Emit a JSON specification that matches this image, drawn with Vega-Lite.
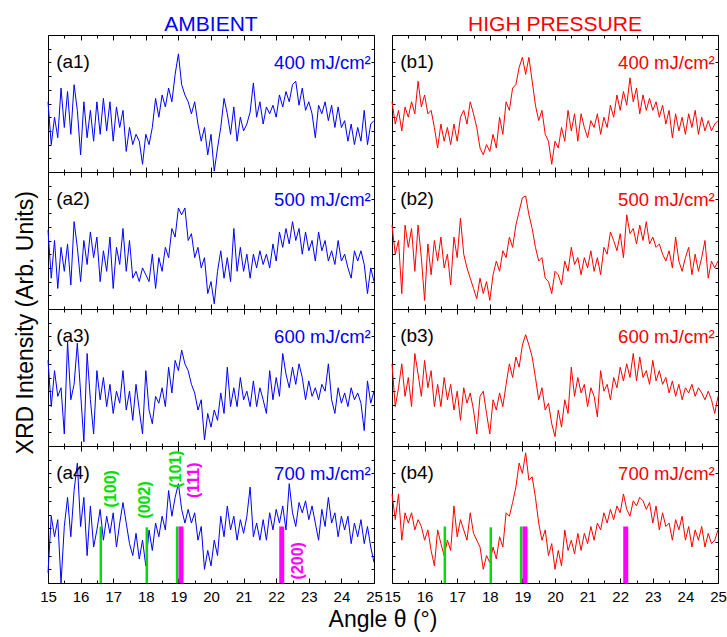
{
"$schema": "https://vega.github.io/schema/vega-lite/v6.json",
"padding": {"left": 15, "top": 14, "right": 2, "bottom": 0},
"config": {"view": {"stroke": "black", "strokeWidth": 1}, "font": "Liberation Sans", "axis": {"domain": false, "grid": false, "tickColor": "black", "tickWidth": 1, "labelFont": "Liberation Sans", "labelFontSize": 15, "labelColor": "black"}},
"datasets": {
"a1": [{"x":15.0,"y":4.1},{"x":15.1,"y":1.6},{"x":15.2,"y":3.2},{"x":15.3,"y":2.0},{"x":15.4,"y":4.9},{"x":15.5,"y":2.6},{"x":15.6,"y":4.7},{"x":15.7,"y":2.2},{"x":15.8,"y":5.1},{"x":15.9,"y":3.6},{"x":16.0,"y":1.0},{"x":16.1,"y":4.1},{"x":16.2,"y":2.0},{"x":16.3,"y":3.6},{"x":16.4,"y":1.8},{"x":16.5,"y":4.1},{"x":16.6,"y":2.2},{"x":16.7,"y":4.3},{"x":16.8,"y":2.4},{"x":16.9,"y":4.1},{"x":17.0,"y":1.8},{"x":17.1,"y":3.8},{"x":17.2,"y":2.6},{"x":17.3,"y":3.6},{"x":17.4,"y":1.2},{"x":17.5,"y":2.6},{"x":17.6,"y":1.6},{"x":17.7,"y":2.2},{"x":17.8,"y":1.8},{"x":17.9,"y":0.45},{"x":18.0,"y":2.2},{"x":18.1,"y":1.6},{"x":18.2,"y":2.6},{"x":18.3,"y":4.3},{"x":18.4,"y":3.2},{"x":18.5,"y":4.5},{"x":18.6,"y":3.8},{"x":18.7,"y":4.9},{"x":18.8,"y":4.1},{"x":18.9,"y":5.7},{"x":19.0,"y":6.9},{"x":19.1,"y":5.1},{"x":19.2,"y":4.5},{"x":19.3,"y":4.1},{"x":19.4,"y":3.4},{"x":19.5,"y":4.1},{"x":19.6,"y":2.8},{"x":19.7,"y":1.8},{"x":19.8,"y":2.6},{"x":19.9,"y":1.0},{"x":20.0,"y":2.2},{"x":20.1,"y":0.05},{"x":20.2,"y":1.4},{"x":20.3,"y":2.6},{"x":20.4,"y":4.3},{"x":20.5,"y":3.4},{"x":20.6,"y":2.2},{"x":20.7,"y":3.8},{"x":20.8,"y":1.8},{"x":20.9,"y":3.2},{"x":21.0,"y":2.4},{"x":21.1,"y":2.8},{"x":21.2,"y":3.5},{"x":21.3,"y":5.2},{"x":21.4,"y":3.2},{"x":21.5,"y":4.1},{"x":21.6,"y":2.8},{"x":21.7,"y":3.8},{"x":21.8,"y":3.4},{"x":21.9,"y":3.9},{"x":22.0,"y":3.2},{"x":22.1,"y":4.5},{"x":22.2,"y":3.8},{"x":22.3,"y":4.7},{"x":22.4,"y":4.1},{"x":22.5,"y":5.1},{"x":22.6,"y":5.3},{"x":22.7,"y":3.9},{"x":22.8,"y":4.9},{"x":22.9,"y":3.6},{"x":23.0,"y":4.1},{"x":23.1,"y":3.4},{"x":23.2,"y":2.0},{"x":23.3,"y":3.9},{"x":23.4,"y":3.4},{"x":23.5,"y":4.1},{"x":23.6,"y":3.0},{"x":23.7,"y":3.9},{"x":23.8,"y":2.6},{"x":23.9,"y":3.8},{"x":24.0,"y":2.6},{"x":24.1,"y":3.0},{"x":24.2,"y":1.8},{"x":24.3,"y":2.8},{"x":24.4,"y":1.6},{"x":24.5,"y":2.6},{"x":24.6,"y":1.8},{"x":24.7,"y":3.6},{"x":24.8,"y":1.6},{"x":24.9,"y":2.8},{"x":25.0,"y":3.0}],
"b1": [{"x":15.0,"y":4.1},{"x":15.1,"y":2.8},{"x":15.2,"y":3.6},{"x":15.3,"y":2.4},{"x":15.4,"y":3.8},{"x":15.5,"y":3.2},{"x":15.6,"y":4.1},{"x":15.7,"y":3.4},{"x":15.8,"y":5.3},{"x":15.9,"y":3.8},{"x":16.0,"y":4.5},{"x":16.1,"y":3.4},{"x":16.2,"y":3.6},{"x":16.3,"y":2.6},{"x":16.4,"y":1.4},{"x":16.5,"y":2.8},{"x":16.6,"y":1.8},{"x":16.7,"y":2.6},{"x":16.8,"y":1.6},{"x":16.9,"y":2.8},{"x":17.0,"y":1.8},{"x":17.1,"y":3.2},{"x":17.2,"y":3.6},{"x":17.3,"y":2.8},{"x":17.4,"y":4.1},{"x":17.5,"y":3.4},{"x":17.6,"y":2.6},{"x":17.7,"y":1.4},{"x":17.8,"y":1.0},{"x":17.9,"y":1.6},{"x":18.0,"y":1.2},{"x":18.1,"y":2.2},{"x":18.2,"y":1.4},{"x":18.3,"y":3.2},{"x":18.4,"y":2.2},{"x":18.5,"y":4.1},{"x":18.6,"y":3.6},{"x":18.7,"y":4.9},{"x":18.8,"y":5.1},{"x":18.9,"y":6.1},{"x":19.0,"y":6.7},{"x":19.1,"y":5.7},{"x":19.2,"y":6.7},{"x":19.3,"y":5.3},{"x":19.4,"y":3.9},{"x":19.5,"y":3.0},{"x":19.6,"y":3.6},{"x":19.7,"y":2.2},{"x":19.8,"y":1.8},{"x":19.9,"y":0.45},{"x":20.0,"y":1.8},{"x":20.1,"y":1.4},{"x":20.2,"y":2.6},{"x":20.3,"y":1.8},{"x":20.4,"y":3.6},{"x":20.5,"y":2.4},{"x":20.6,"y":3.4},{"x":20.7,"y":1.8},{"x":20.8,"y":3.4},{"x":20.9,"y":2.6},{"x":21.0,"y":2.0},{"x":21.1,"y":3.0},{"x":21.2,"y":2.6},{"x":21.3,"y":3.4},{"x":21.4,"y":2.2},{"x":21.5,"y":3.2},{"x":21.6,"y":2.6},{"x":21.7,"y":3.9},{"x":21.8,"y":3.2},{"x":21.9,"y":4.5},{"x":22.0,"y":3.6},{"x":22.1,"y":4.7},{"x":22.2,"y":3.9},{"x":22.3,"y":5.5},{"x":22.4,"y":4.1},{"x":22.5,"y":4.9},{"x":22.6,"y":3.4},{"x":22.7,"y":4.5},{"x":22.8,"y":3.6},{"x":22.9,"y":4.3},{"x":23.0,"y":3.6},{"x":23.1,"y":4.1},{"x":23.2,"y":3.2},{"x":23.3,"y":3.9},{"x":23.4,"y":2.8},{"x":23.5,"y":3.6},{"x":23.6,"y":2.0},{"x":23.7,"y":3.4},{"x":23.8,"y":2.4},{"x":23.9,"y":3.2},{"x":24.0,"y":2.2},{"x":24.1,"y":3.4},{"x":24.2,"y":2.6},{"x":24.3,"y":3.6},{"x":24.4,"y":2.2},{"x":24.5,"y":3.2},{"x":24.6,"y":2.4},{"x":24.7,"y":3.0},{"x":24.8,"y":2.4},{"x":24.9,"y":2.8},{"x":25.0,"y":3.0}],
"a2": [{"x":15.0,"y":4.6},{"x":15.1,"y":1.8},{"x":15.2,"y":4.0},{"x":15.3,"y":1.2},{"x":15.4,"y":3.6},{"x":15.5,"y":2.2},{"x":15.6,"y":3.8},{"x":15.7,"y":1.4},{"x":15.8,"y":5.1},{"x":15.9,"y":3.6},{"x":16.0,"y":1.6},{"x":16.1,"y":4.0},{"x":16.2,"y":2.6},{"x":16.3,"y":4.5},{"x":16.4,"y":3.0},{"x":16.5,"y":4.2},{"x":16.6,"y":1.6},{"x":16.7,"y":3.4},{"x":16.8,"y":2.2},{"x":16.9,"y":4.2},{"x":17.0,"y":1.2},{"x":17.1,"y":3.6},{"x":17.2,"y":2.6},{"x":17.3,"y":4.7},{"x":17.4,"y":2.2},{"x":17.5,"y":4.0},{"x":17.6,"y":1.8},{"x":17.7,"y":2.2},{"x":17.8,"y":1.6},{"x":17.9,"y":2.4},{"x":18.0,"y":2.0},{"x":18.1,"y":1.6},{"x":18.2,"y":3.2},{"x":18.3,"y":1.2},{"x":18.4,"y":3.0},{"x":18.5,"y":2.2},{"x":18.6,"y":3.6},{"x":18.7,"y":3.0},{"x":18.8,"y":4.7},{"x":18.9,"y":4.2},{"x":19.0,"y":5.9},{"x":19.1,"y":5.5},{"x":19.2,"y":5.9},{"x":19.3,"y":4.0},{"x":19.4,"y":4.4},{"x":19.5,"y":3.0},{"x":19.6,"y":3.6},{"x":19.7,"y":2.4},{"x":19.8,"y":3.0},{"x":19.9,"y":0.9},{"x":20.0,"y":1.6},{"x":20.1,"y":0.3},{"x":20.2,"y":2.2},{"x":20.3,"y":3.4},{"x":20.4,"y":1.8},{"x":20.5,"y":3.0},{"x":20.6,"y":1.6},{"x":20.7,"y":4.7},{"x":20.8,"y":2.2},{"x":20.9,"y":3.6},{"x":21.0,"y":2.2},{"x":21.1,"y":3.2},{"x":21.2,"y":1.8},{"x":21.3,"y":3.2},{"x":21.4,"y":2.4},{"x":21.5,"y":3.4},{"x":21.6,"y":2.6},{"x":21.7,"y":3.2},{"x":21.8,"y":2.4},{"x":21.9,"y":3.8},{"x":22.0,"y":2.8},{"x":22.1,"y":4.5},{"x":22.2,"y":3.6},{"x":22.3,"y":4.7},{"x":22.4,"y":3.8},{"x":22.5,"y":5.1},{"x":22.6,"y":4.0},{"x":22.7,"y":4.7},{"x":22.8,"y":3.2},{"x":22.9,"y":4.5},{"x":23.0,"y":3.4},{"x":23.1,"y":4.0},{"x":23.2,"y":2.8},{"x":23.3,"y":4.5},{"x":23.4,"y":3.4},{"x":23.5,"y":4.0},{"x":23.6,"y":2.8},{"x":23.7,"y":3.4},{"x":23.8,"y":2.6},{"x":23.9,"y":4.0},{"x":24.0,"y":2.8},{"x":24.1,"y":3.2},{"x":24.2,"y":2.4},{"x":24.3,"y":1.8},{"x":24.4,"y":3.4},{"x":24.5,"y":2.8},{"x":24.6,"y":3.4},{"x":24.7,"y":2.6},{"x":24.8,"y":0.9},{"x":24.9,"y":2.4},{"x":25.0,"y":1.6}],
"b2": [{"x":15.0,"y":4.9},{"x":15.1,"y":3.2},{"x":15.2,"y":4.0},{"x":15.3,"y":0.9},{"x":15.4,"y":4.9},{"x":15.5,"y":3.6},{"x":15.6,"y":4.7},{"x":15.7,"y":2.2},{"x":15.8,"y":4.9},{"x":15.9,"y":3.0},{"x":16.0,"y":0.5},{"x":16.1,"y":3.8},{"x":16.2,"y":2.0},{"x":16.3,"y":4.0},{"x":16.4,"y":2.8},{"x":16.5,"y":4.2},{"x":16.6,"y":2.4},{"x":16.7,"y":3.2},{"x":16.8,"y":1.4},{"x":16.9,"y":4.2},{"x":17.0,"y":3.0},{"x":17.1,"y":5.3},{"x":17.2,"y":3.2},{"x":17.3,"y":2.4},{"x":17.4,"y":1.8},{"x":17.5,"y":1.2},{"x":17.6,"y":0.6},{"x":17.7,"y":1.8},{"x":17.8,"y":0.9},{"x":17.9,"y":1.6},{"x":18.0,"y":0.5},{"x":18.1,"y":2.0},{"x":18.2,"y":2.8},{"x":18.3,"y":2.2},{"x":18.4,"y":3.4},{"x":18.5,"y":3.0},{"x":18.6,"y":4.2},{"x":18.7,"y":3.6},{"x":18.8,"y":4.9},{"x":18.9,"y":5.7},{"x":19.0,"y":6.5},{"x":19.1,"y":6.6},{"x":19.2,"y":5.5},{"x":19.3,"y":4.7},{"x":19.4,"y":3.6},{"x":19.5,"y":2.8},{"x":19.6,"y":3.0},{"x":19.7,"y":1.8},{"x":19.8,"y":1.6},{"x":19.9,"y":0.9},{"x":20.0,"y":2.2},{"x":20.1,"y":2.0},{"x":20.2,"y":1.4},{"x":20.3,"y":2.8},{"x":20.4,"y":2.2},{"x":20.5,"y":3.6},{"x":20.6,"y":2.6},{"x":20.7,"y":3.0},{"x":20.8,"y":2.0},{"x":20.9,"y":3.0},{"x":21.0,"y":2.4},{"x":21.1,"y":3.4},{"x":21.2,"y":2.2},{"x":21.3,"y":3.0},{"x":21.4,"y":2.0},{"x":21.5,"y":3.6},{"x":21.6,"y":3.2},{"x":21.7,"y":4.5},{"x":21.8,"y":4.0},{"x":21.9,"y":3.4},{"x":22.0,"y":4.4},{"x":22.1,"y":3.0},{"x":22.2,"y":5.5},{"x":22.3,"y":4.4},{"x":22.4,"y":4.7},{"x":22.5,"y":3.8},{"x":22.6,"y":4.9},{"x":22.7,"y":4.0},{"x":22.8,"y":5.1},{"x":22.9,"y":3.8},{"x":23.0,"y":4.2},{"x":23.1,"y":3.6},{"x":23.2,"y":3.8},{"x":23.3,"y":3.2},{"x":23.4,"y":2.8},{"x":23.5,"y":3.4},{"x":23.6,"y":2.4},{"x":23.7,"y":4.2},{"x":23.8,"y":2.8},{"x":23.9,"y":2.2},{"x":24.0,"y":3.0},{"x":24.1,"y":3.6},{"x":24.2,"y":2.0},{"x":24.3,"y":3.2},{"x":24.4,"y":2.2},{"x":24.5,"y":3.0},{"x":24.6,"y":4.0},{"x":24.7,"y":1.8},{"x":24.8,"y":2.8},{"x":24.9,"y":2.4},{"x":25.0,"y":2.8}],
"a3": [{"x":15.0,"y":5.0},{"x":15.1,"y":2.3},{"x":15.2,"y":4.4},{"x":15.3,"y":2.9},{"x":15.4,"y":3.4},{"x":15.5,"y":0.7},{"x":15.6,"y":6.1},{"x":15.7,"y":2.7},{"x":15.8,"y":3.6},{"x":15.9,"y":6.0},{"x":16.0,"y":3.1},{"x":16.1,"y":0.25},{"x":16.2,"y":5.4},{"x":16.3,"y":2.7},{"x":16.4,"y":0.7},{"x":16.5,"y":4.4},{"x":16.6,"y":2.7},{"x":16.7,"y":4.0},{"x":16.8,"y":2.3},{"x":16.9,"y":3.6},{"x":17.0,"y":1.9},{"x":17.1,"y":3.2},{"x":17.2,"y":2.5},{"x":17.3,"y":4.4},{"x":17.4,"y":2.1},{"x":17.5,"y":3.2},{"x":17.6,"y":1.5},{"x":17.7,"y":3.6},{"x":17.8,"y":2.1},{"x":17.9,"y":0.7},{"x":18.0,"y":4.4},{"x":18.1,"y":2.1},{"x":18.2,"y":1.3},{"x":18.3,"y":2.9},{"x":18.4,"y":2.5},{"x":18.5,"y":3.4},{"x":18.6,"y":2.3},{"x":18.7,"y":4.6},{"x":18.8,"y":3.1},{"x":18.9,"y":5.0},{"x":19.0,"y":4.4},{"x":19.1,"y":5.6},{"x":19.2,"y":4.8},{"x":19.3,"y":4.4},{"x":19.4,"y":3.6},{"x":19.5,"y":3.1},{"x":19.6,"y":2.1},{"x":19.7,"y":2.7},{"x":19.8,"y":0.35},{"x":19.9,"y":1.9},{"x":20.0,"y":1.1},{"x":20.1,"y":2.1},{"x":20.2,"y":1.5},{"x":20.3,"y":3.1},{"x":20.4,"y":1.9},{"x":20.5,"y":4.6},{"x":20.6,"y":2.3},{"x":20.7,"y":3.4},{"x":20.8,"y":2.3},{"x":20.9,"y":4.0},{"x":21.0,"y":2.7},{"x":21.1,"y":3.2},{"x":21.2,"y":2.3},{"x":21.3,"y":3.8},{"x":21.4,"y":2.3},{"x":21.5,"y":3.4},{"x":21.6,"y":2.7},{"x":21.7,"y":1.9},{"x":21.8,"y":4.4},{"x":21.9,"y":2.7},{"x":22.0,"y":4.0},{"x":22.1,"y":2.9},{"x":22.2,"y":5.4},{"x":22.3,"y":4.2},{"x":22.4,"y":3.4},{"x":22.5,"y":4.6},{"x":22.6,"y":3.6},{"x":22.7,"y":4.8},{"x":22.8,"y":4.0},{"x":22.9,"y":2.7},{"x":23.0,"y":3.8},{"x":23.1,"y":2.9},{"x":23.2,"y":3.4},{"x":23.3,"y":2.7},{"x":23.4,"y":3.6},{"x":23.5,"y":3.2},{"x":23.6,"y":4.8},{"x":23.7,"y":2.7},{"x":23.8,"y":1.9},{"x":23.9,"y":3.4},{"x":24.0,"y":2.5},{"x":24.1,"y":3.1},{"x":24.2,"y":2.3},{"x":24.3,"y":3.4},{"x":24.4,"y":2.7},{"x":24.5,"y":3.1},{"x":24.6,"y":2.5},{"x":24.7,"y":0.9},{"x":24.8,"y":3.8},{"x":24.9,"y":2.5},{"x":25.0,"y":3.2}],
"b3": [{"x":15.0,"y":4.8},{"x":15.1,"y":2.3},{"x":15.2,"y":3.4},{"x":15.3,"y":4.8},{"x":15.4,"y":2.9},{"x":15.5,"y":4.0},{"x":15.6,"y":2.3},{"x":15.7,"y":5.4},{"x":15.8,"y":4.2},{"x":15.9,"y":2.9},{"x":16.0,"y":5.0},{"x":16.1,"y":3.4},{"x":16.2,"y":4.4},{"x":16.3,"y":2.3},{"x":16.4,"y":3.6},{"x":16.5,"y":2.3},{"x":16.6,"y":4.0},{"x":16.7,"y":2.7},{"x":16.8,"y":3.6},{"x":16.9,"y":2.1},{"x":17.0,"y":3.2},{"x":17.1,"y":1.5},{"x":17.2,"y":3.4},{"x":17.3,"y":2.5},{"x":17.4,"y":3.1},{"x":17.5,"y":2.1},{"x":17.6,"y":0.7},{"x":17.7,"y":2.9},{"x":17.8,"y":3.2},{"x":17.9,"y":1.9},{"x":18.0,"y":0.7},{"x":18.1,"y":2.7},{"x":18.2,"y":2.1},{"x":18.3,"y":3.1},{"x":18.4,"y":2.3},{"x":18.5,"y":3.6},{"x":18.6,"y":4.8},{"x":18.7,"y":4.0},{"x":18.8,"y":5.2},{"x":18.9,"y":4.6},{"x":19.0,"y":5.9},{"x":19.1,"y":6.5},{"x":19.2,"y":5.9},{"x":19.3,"y":5.2},{"x":19.4,"y":4.0},{"x":19.5,"y":2.7},{"x":19.6,"y":3.4},{"x":19.7,"y":2.1},{"x":19.8,"y":2.5},{"x":19.9,"y":1.3},{"x":20.0,"y":0.55},{"x":20.1,"y":2.1},{"x":20.2,"y":1.1},{"x":20.3,"y":2.7},{"x":20.4,"y":1.9},{"x":20.5,"y":4.6},{"x":20.6,"y":2.9},{"x":20.7,"y":4.0},{"x":20.8,"y":3.1},{"x":20.9,"y":3.6},{"x":21.0,"y":2.3},{"x":21.1,"y":3.4},{"x":21.2,"y":2.9},{"x":21.3,"y":1.7},{"x":21.4,"y":4.4},{"x":21.5,"y":3.2},{"x":21.6,"y":3.6},{"x":21.7,"y":2.7},{"x":21.8,"y":4.0},{"x":21.9,"y":3.4},{"x":22.0,"y":4.6},{"x":22.1,"y":3.8},{"x":22.2,"y":4.8},{"x":22.3,"y":4.0},{"x":22.4,"y":5.4},{"x":22.5,"y":3.8},{"x":22.6,"y":5.2},{"x":22.7,"y":4.0},{"x":22.8,"y":4.4},{"x":22.9,"y":3.6},{"x":23.0,"y":5.0},{"x":23.1,"y":3.8},{"x":23.2,"y":4.4},{"x":23.3,"y":3.6},{"x":23.4,"y":4.0},{"x":23.5,"y":3.1},{"x":23.6,"y":3.8},{"x":23.7,"y":2.9},{"x":23.8,"y":3.6},{"x":23.9,"y":2.7},{"x":24.0,"y":3.4},{"x":24.1,"y":3.1},{"x":24.2,"y":3.6},{"x":24.3,"y":2.9},{"x":24.4,"y":3.4},{"x":24.5,"y":3.1},{"x":24.6,"y":2.7},{"x":24.7,"y":3.2},{"x":24.8,"y":2.7},{"x":24.9,"y":1.9},{"x":25.0,"y":2.9}],
"a4": [{"x":15.0,"y":0.6},{"x":15.1,"y":3.9},{"x":15.2,"y":2.7},{"x":15.3,"y":3.7},{"x":15.4,"y":0.0},{"x":15.5,"y":3.3},{"x":15.6,"y":5.0},{"x":15.7,"y":2.7},{"x":15.8,"y":5.4},{"x":15.9,"y":7.0},{"x":16.0,"y":3.3},{"x":16.1,"y":5.0},{"x":16.2,"y":1.6},{"x":16.3,"y":4.5},{"x":16.4,"y":2.1},{"x":16.5,"y":3.1},{"x":16.6,"y":4.3},{"x":16.7,"y":2.5},{"x":16.8,"y":3.9},{"x":16.9,"y":2.9},{"x":17.0,"y":4.1},{"x":17.1,"y":2.1},{"x":17.2,"y":3.5},{"x":17.3,"y":4.7},{"x":17.4,"y":3.5},{"x":17.5,"y":2.3},{"x":17.6,"y":1.6},{"x":17.7,"y":2.9},{"x":17.8,"y":1.4},{"x":17.9,"y":2.5},{"x":18.0,"y":1.0},{"x":18.1,"y":3.1},{"x":18.2,"y":1.9},{"x":18.3,"y":3.5},{"x":18.4,"y":2.7},{"x":18.5,"y":3.9},{"x":18.6,"y":3.1},{"x":18.7,"y":5.4},{"x":18.8,"y":3.9},{"x":18.9,"y":5.0},{"x":19.0,"y":5.8},{"x":19.1,"y":4.3},{"x":19.2,"y":3.5},{"x":19.3,"y":4.3},{"x":19.4,"y":3.5},{"x":19.5,"y":4.1},{"x":19.6,"y":2.5},{"x":19.7,"y":3.3},{"x":19.8,"y":0.8},{"x":19.9,"y":1.9},{"x":20.0,"y":1.0},{"x":20.1,"y":2.5},{"x":20.2,"y":1.6},{"x":20.3,"y":3.9},{"x":20.4,"y":2.7},{"x":20.5,"y":4.5},{"x":20.6,"y":3.1},{"x":20.7,"y":3.9},{"x":20.8,"y":2.5},{"x":20.9,"y":3.7},{"x":21.0,"y":2.9},{"x":21.1,"y":3.9},{"x":21.2,"y":5.6},{"x":21.3,"y":2.7},{"x":21.4,"y":3.5},{"x":21.5,"y":2.5},{"x":21.6,"y":3.7},{"x":21.7,"y":2.5},{"x":21.8,"y":4.1},{"x":21.9,"y":3.1},{"x":22.0,"y":4.3},{"x":22.1,"y":3.5},{"x":22.2,"y":4.5},{"x":22.3,"y":3.1},{"x":22.4,"y":5.8},{"x":22.5,"y":4.1},{"x":22.6,"y":3.3},{"x":22.7,"y":4.7},{"x":22.8,"y":4.1},{"x":22.9,"y":4.8},{"x":23.0,"y":3.7},{"x":23.1,"y":4.5},{"x":23.2,"y":3.5},{"x":23.3,"y":2.5},{"x":23.4,"y":4.3},{"x":23.5,"y":3.3},{"x":23.6,"y":5.0},{"x":23.7,"y":3.5},{"x":23.8,"y":4.1},{"x":23.9,"y":2.7},{"x":24.0,"y":3.9},{"x":24.1,"y":3.1},{"x":24.2,"y":3.9},{"x":24.3,"y":2.3},{"x":24.4,"y":3.5},{"x":24.5,"y":2.7},{"x":24.6,"y":3.7},{"x":24.7,"y":2.3},{"x":24.8,"y":3.3},{"x":24.9,"y":2.1},{"x":25.0,"y":1.2}],
"b4": [{"x":15.0,"y":5.2},{"x":15.1,"y":3.7},{"x":15.2,"y":5.2},{"x":15.3,"y":2.5},{"x":15.4,"y":4.1},{"x":15.5,"y":3.5},{"x":15.6,"y":4.1},{"x":15.7,"y":3.1},{"x":15.8,"y":3.7},{"x":15.9,"y":3.3},{"x":16.0,"y":2.5},{"x":16.1,"y":3.1},{"x":16.2,"y":1.9},{"x":16.3,"y":1.0},{"x":16.4,"y":3.1},{"x":16.5,"y":2.3},{"x":16.6,"y":1.6},{"x":16.7,"y":2.5},{"x":16.8,"y":1.9},{"x":16.9,"y":4.5},{"x":17.0,"y":2.7},{"x":17.1,"y":3.7},{"x":17.2,"y":3.1},{"x":17.3,"y":2.5},{"x":17.4,"y":4.1},{"x":17.5,"y":2.9},{"x":17.6,"y":2.5},{"x":17.7,"y":2.1},{"x":17.8,"y":0.8},{"x":17.9,"y":1.6},{"x":18.0,"y":1.2},{"x":18.1,"y":2.1},{"x":18.2,"y":1.4},{"x":18.3,"y":2.7},{"x":18.4,"y":2.1},{"x":18.5,"y":4.1},{"x":18.6,"y":3.9},{"x":18.7,"y":4.7},{"x":18.8,"y":5.6},{"x":18.9,"y":7.0},{"x":19.0,"y":6.4},{"x":19.1,"y":7.6},{"x":19.2,"y":6.0},{"x":19.3,"y":6.2},{"x":19.4,"y":5.0},{"x":19.5,"y":3.5},{"x":19.6,"y":2.5},{"x":19.7,"y":3.1},{"x":19.8,"y":1.6},{"x":19.9,"y":2.3},{"x":20.0,"y":0.8},{"x":20.1,"y":1.9},{"x":20.2,"y":1.0},{"x":20.3,"y":3.1},{"x":20.4,"y":1.9},{"x":20.5,"y":2.5},{"x":20.6,"y":1.7},{"x":20.7,"y":2.9},{"x":20.8,"y":1.9},{"x":20.9,"y":2.9},{"x":21.0,"y":2.3},{"x":21.1,"y":3.3},{"x":21.2,"y":2.5},{"x":21.3,"y":3.5},{"x":21.4,"y":3.1},{"x":21.5,"y":4.1},{"x":21.6,"y":3.5},{"x":21.7,"y":4.3},{"x":21.8,"y":3.7},{"x":21.9,"y":4.5},{"x":22.0,"y":4.1},{"x":22.1,"y":5.2},{"x":22.2,"y":4.3},{"x":22.3,"y":3.9},{"x":22.4,"y":4.8},{"x":22.5,"y":4.5},{"x":22.6,"y":5.0},{"x":22.7,"y":4.8},{"x":22.8,"y":4.3},{"x":22.9,"y":4.7},{"x":23.0,"y":3.5},{"x":23.1,"y":4.5},{"x":23.2,"y":3.1},{"x":23.3,"y":4.1},{"x":23.4,"y":3.3},{"x":23.5,"y":3.5},{"x":23.6,"y":2.5},{"x":23.7,"y":3.7},{"x":23.8,"y":3.1},{"x":23.9,"y":3.9},{"x":24.0,"y":2.5},{"x":24.1,"y":3.3},{"x":24.2,"y":2.1},{"x":24.3,"y":3.1},{"x":24.4,"y":2.5},{"x":24.5,"y":3.3},{"x":24.6,"y":2.1},{"x":24.7,"y":2.9},{"x":24.8,"y":2.3},{"x":24.9,"y":2.5},{"x":25.0,"y":3.1}],
"sticks": [{"x":16.62,"h":3.3,"phase":"hex"},{"x":18.03,"h":3.25,"phase":"hex"},{"x":18.96,"h":3.3,"phase":"hex"},{"x":19.08,"h":3.3,"phase":"cubic"},{"x":22.17,"h":3.3,"phase":"cubic"}],
"hkl": [{"x":16.94,"y":5.5,"t":"(100)","phase":"hex"},{"x":17.99,"y":4.85,"t":"(002)","phase":"hex"},{"x":18.93,"y":6.65,"t":"(101)","phase":"hex"},{"x":19.47,"y":6.0,"t":"(111)","phase":"cubic"},{"x":22.68,"y":1.3,"t":"(200)","phase":"cubic"}]
},
"title": {"text": "XRD Intensity (Arb. Units)", "orient": "left", "anchor": "middle", "fontSize": 23, "fontWeight": "normal", "font": "Liberation Sans", "color": "black", "offset": 1},
"vconcat": [{
 "title": {"text": "Angle θ (°)", "orient": "bottom", "anchor": "middle", "fontSize": 23, "fontWeight": "normal", "font": "Liberation Sans", "color": "black", "offset": 4},
 "spacing": 0,
 "hconcat": [
  {"title": {"text": "AMBIENT", "color": "#0000ff", "fontSize": 21, "fontWeight": "normal", "font": "Liberation Sans", "anchor": "middle", "offset": -1},
   "spacing": 0, "bounds": "flush",
   "vconcat": [
    {"width": 326, "height": 137, "data": {"name": "a1"}, "resolve": {"axis": {"x": "independent", "y": "independent"}},
     "layer": [
      {"mark": {"type": "line", "color": "#0000ff", "strokeWidth": 1}, "encoding": {"x": {"field": "x", "type": "quantitative", "scale": {"domain": [15, 25], "nice": false}, "axis": {"orient": "bottom", "values": [15,16,17,18,19,20,21,22,23,24,25], "tickSize": -5, "labels": false, "title": null}}, "y": {"field": "y", "type": "quantitative", "scale": {"domain": [0, 8], "nice": false}, "axis": {"orient": "left", "values": [0.8,1.6,2.4,3.2,4.0,4.8,5.6,6.4,7.2], "tickSize": -3, "labels": false, "title": null}}}},
      {"mark": {"type": "point", "opacity": 0}, "encoding": {"x": {"field": "x", "type": "quantitative", "axis": {"orient": "top", "values": [15,16,17,18,19,20,21,22,23,24,25], "tickSize": -5, "labels": false, "title": null}}, "y": {"field": "y", "type": "quantitative", "axis": {"orient": "right", "values": [0.8,1.6,2.4,3.2,4.0,4.8,5.6,6.4,7.2], "tickSize": -3, "labels": false, "title": null}}}},
      {"mark": {"type": "point", "opacity": 0}, "encoding": {"x": {"field": "x", "type": "quantitative", "axis": {"orient": "bottom", "values": [15.5,16.5,17.5,18.5,19.5,20.5,21.5,22.5,23.5,24.5], "tickSize": -3, "labels": false, "title": null}}, "y": {"field": "y", "type": "quantitative", "axis": null}}},
      {"mark": {"type": "point", "opacity": 0}, "encoding": {"x": {"field": "x", "type": "quantitative", "axis": {"orient": "top", "values": [15.5,16.5,17.5,18.5,19.5,20.5,21.5,22.5,23.5,24.5], "tickSize": -3, "labels": false, "title": null}}, "y": {"field": "y", "type": "quantitative", "axis": null}}},
      {"data": {"values": [{"t": "(a1)"}]}, "mark": {"type": "text", "align": "left", "fontSize": 19, "color": "black"}, "encoding": {"x": {"datum": 15.25, "axis": null}, "y": {"datum": 6.45, "axis": null}, "text": {"field": "t"}}},
      {"data": {"values": [{"t": "400 mJ/cm²"}]}, "mark": {"type": "text", "align": "right", "fontSize": 18.5, "color": "#0000ff"}, "encoding": {"x": {"datum": 24.9, "axis": null}, "y": {"datum": 6.38, "axis": null}, "text": {"field": "t"}}}
     ]},
    {"width": 326, "height": 137, "data": {"name": "a2"}, "resolve": {"axis": {"x": "independent", "y": "independent"}},
     "layer": [
      {"mark": {"type": "line", "color": "#0000ff", "strokeWidth": 1}, "encoding": {"x": {"field": "x", "type": "quantitative", "scale": {"domain": [15, 25], "nice": false}, "axis": {"orient": "bottom", "values": [15,16,17,18,19,20,21,22,23,24,25], "tickSize": -5, "labels": false, "title": null}}, "y": {"field": "y", "type": "quantitative", "scale": {"domain": [0, 8], "nice": false}, "axis": {"orient": "left", "values": [0.8,1.6,2.4,3.2,4.0,4.8,5.6,6.4,7.2], "tickSize": -3, "labels": false, "title": null}}}},
      {"mark": {"type": "point", "opacity": 0}, "encoding": {"x": {"field": "x", "type": "quantitative", "axis": {"orient": "top", "values": [15,16,17,18,19,20,21,22,23,24,25], "tickSize": -5, "labels": false, "title": null}}, "y": {"field": "y", "type": "quantitative", "axis": {"orient": "right", "values": [0.8,1.6,2.4,3.2,4.0,4.8,5.6,6.4,7.2], "tickSize": -3, "labels": false, "title": null}}}},
      {"mark": {"type": "point", "opacity": 0}, "encoding": {"x": {"field": "x", "type": "quantitative", "axis": {"orient": "bottom", "values": [15.5,16.5,17.5,18.5,19.5,20.5,21.5,22.5,23.5,24.5], "tickSize": -3, "labels": false, "title": null}}, "y": {"field": "y", "type": "quantitative", "axis": null}}},
      {"mark": {"type": "point", "opacity": 0}, "encoding": {"x": {"field": "x", "type": "quantitative", "axis": {"orient": "top", "values": [15.5,16.5,17.5,18.5,19.5,20.5,21.5,22.5,23.5,24.5], "tickSize": -3, "labels": false, "title": null}}, "y": {"field": "y", "type": "quantitative", "axis": null}}},
      {"data": {"values": [{"t": "(a2)"}]}, "mark": {"type": "text", "align": "left", "fontSize": 19, "color": "black"}, "encoding": {"x": {"datum": 15.25, "axis": null}, "y": {"datum": 6.45, "axis": null}, "text": {"field": "t"}}},
      {"data": {"values": [{"t": "500 mJ/cm²"}]}, "mark": {"type": "text", "align": "right", "fontSize": 18.5, "color": "#0000ff"}, "encoding": {"x": {"datum": 24.9, "axis": null}, "y": {"datum": 6.38, "axis": null}, "text": {"field": "t"}}}
     ]},
    {"width": 326, "height": 137, "data": {"name": "a3"}, "resolve": {"axis": {"x": "independent", "y": "independent"}},
     "layer": [
      {"mark": {"type": "line", "color": "#0000ff", "strokeWidth": 1}, "encoding": {"x": {"field": "x", "type": "quantitative", "scale": {"domain": [15, 25], "nice": false}, "axis": {"orient": "bottom", "values": [15,16,17,18,19,20,21,22,23,24,25], "tickSize": -5, "labels": false, "title": null}}, "y": {"field": "y", "type": "quantitative", "scale": {"domain": [0, 8], "nice": false}, "axis": {"orient": "left", "values": [0.8,1.6,2.4,3.2,4.0,4.8,5.6,6.4,7.2], "tickSize": -3, "labels": false, "title": null}}}},
      {"mark": {"type": "point", "opacity": 0}, "encoding": {"x": {"field": "x", "type": "quantitative", "axis": {"orient": "top", "values": [15,16,17,18,19,20,21,22,23,24,25], "tickSize": -5, "labels": false, "title": null}}, "y": {"field": "y", "type": "quantitative", "axis": {"orient": "right", "values": [0.8,1.6,2.4,3.2,4.0,4.8,5.6,6.4,7.2], "tickSize": -3, "labels": false, "title": null}}}},
      {"mark": {"type": "point", "opacity": 0}, "encoding": {"x": {"field": "x", "type": "quantitative", "axis": {"orient": "bottom", "values": [15.5,16.5,17.5,18.5,19.5,20.5,21.5,22.5,23.5,24.5], "tickSize": -3, "labels": false, "title": null}}, "y": {"field": "y", "type": "quantitative", "axis": null}}},
      {"mark": {"type": "point", "opacity": 0}, "encoding": {"x": {"field": "x", "type": "quantitative", "axis": {"orient": "top", "values": [15.5,16.5,17.5,18.5,19.5,20.5,21.5,22.5,23.5,24.5], "tickSize": -3, "labels": false, "title": null}}, "y": {"field": "y", "type": "quantitative", "axis": null}}},
      {"data": {"values": [{"t": "(a3)"}]}, "mark": {"type": "text", "align": "left", "fontSize": 19, "color": "black"}, "encoding": {"x": {"datum": 15.25, "axis": null}, "y": {"datum": 6.45, "axis": null}, "text": {"field": "t"}}},
      {"data": {"values": [{"t": "600 mJ/cm²"}]}, "mark": {"type": "text", "align": "right", "fontSize": 18.5, "color": "#0000ff"}, "encoding": {"x": {"datum": 24.9, "axis": null}, "y": {"datum": 6.38, "axis": null}, "text": {"field": "t"}}}
     ]},
    {"width": 326, "height": 137, "data": {"name": "a4"}, "resolve": {"axis": {"x": "independent", "y": "independent"}},
     "layer": [
      {"mark": {"type": "line", "color": "#0000ff", "strokeWidth": 1}, "encoding": {"x": {"field": "x", "type": "quantitative", "scale": {"domain": [15, 25], "nice": false}, "axis": {"orient": "bottom", "values": [15,16,17,18,19,20,21,22,23,24,25], "tickSize": -5, "labelPadding": 11, "labelFontSize": 15, "labelFlush": false, "labelOverlap": false, "title": null}}, "y": {"field": "y", "type": "quantitative", "scale": {"domain": [0, 8], "nice": false}, "axis": {"orient": "left", "values": [0.8,1.6,2.4,3.2,4.0,4.8,5.6,6.4,7.2], "tickSize": -3, "labels": false, "title": null}}}},
      {"mark": {"type": "point", "opacity": 0}, "encoding": {"x": {"field": "x", "type": "quantitative", "axis": {"orient": "top", "values": [15,16,17,18,19,20,21,22,23,24,25], "tickSize": -5, "labels": false, "title": null}}, "y": {"field": "y", "type": "quantitative", "axis": {"orient": "right", "values": [0.8,1.6,2.4,3.2,4.0,4.8,5.6,6.4,7.2], "tickSize": -3, "labels": false, "title": null}}}},
      {"mark": {"type": "point", "opacity": 0}, "encoding": {"x": {"field": "x", "type": "quantitative", "axis": {"orient": "bottom", "values": [15.5,16.5,17.5,18.5,19.5,20.5,21.5,22.5,23.5,24.5], "tickSize": -3, "labels": false, "title": null}}, "y": {"field": "y", "type": "quantitative", "axis": null}}},
      {"mark": {"type": "point", "opacity": 0}, "encoding": {"x": {"field": "x", "type": "quantitative", "axis": {"orient": "top", "values": [15.5,16.5,17.5,18.5,19.5,20.5,21.5,22.5,23.5,24.5], "tickSize": -3, "labels": false, "title": null}}, "y": {"field": "y", "type": "quantitative", "axis": null}}},
      {"data": {"name": "sticks"}, "mark": {"type": "rule"}, "encoding": {"x": {"field": "x", "type": "quantitative", "axis": null}, "y": {"field": "h", "type": "quantitative", "axis": null}, "y2": {"datum": 0}, "color": {"field": "phase", "type": "nominal", "scale": {"domain": ["hex", "cubic"], "range": ["#00e000", "#ff00ff"]}, "legend": null}, "strokeWidth": {"field": "phase", "type": "ordinal", "scale": {"domain": ["hex", "cubic"], "range": [2.5, 5]}, "legend": null}}},
      {"data": {"name": "hkl"}, "mark": {"type": "text", "angle": 270, "fontSize": 16, "fontWeight": "bold", "align": "center", "baseline": "middle"}, "encoding": {"x": {"field": "x", "type": "quantitative", "axis": null}, "y": {"field": "y", "type": "quantitative", "axis": null}, "text": {"field": "t"}, "color": {"field": "phase", "type": "nominal", "scale": {"domain": ["hex", "cubic"], "range": ["#00e000", "#ff00ff"]}, "legend": null}}},
      {"data": {"values": [{"t": "(a4)"}]}, "mark": {"type": "text", "align": "left", "fontSize": 19, "color": "black"}, "encoding": {"x": {"datum": 15.25, "axis": null}, "y": {"datum": 6.45, "axis": null}, "text": {"field": "t"}}},
      {"data": {"values": [{"t": "700 mJ/cm²"}]}, "mark": {"type": "text", "align": "right", "fontSize": 18.5, "color": "#0000ff"}, "encoding": {"x": {"datum": 24.9, "axis": null}, "y": {"datum": 6.38, "axis": null}, "text": {"field": "t"}}}
     ]}
   ]},
  {"title": {"text": "HIGH PRESSURE", "color": "#ff0000", "fontSize": 21, "fontWeight": "normal", "font": "Liberation Sans", "anchor": "middle", "offset": -1},
   "spacing": 0, "bounds": "flush",
   "vconcat": [
    {"width": 326, "height": 137, "data": {"name": "b1"}, "resolve": {"axis": {"x": "independent", "y": "independent"}},
     "layer": [
      {"mark": {"type": "line", "color": "#ff0000", "strokeWidth": 1}, "encoding": {"x": {"field": "x", "type": "quantitative", "scale": {"domain": [15, 25], "nice": false}, "axis": {"orient": "bottom", "values": [15,16,17,18,19,20,21,22,23,24,25], "tickSize": -5, "labels": false, "title": null}}, "y": {"field": "y", "type": "quantitative", "scale": {"domain": [0, 8], "nice": false}, "axis": {"orient": "left", "values": [0.8,1.6,2.4,3.2,4.0,4.8,5.6,6.4,7.2], "tickSize": -3, "labels": false, "title": null}}}},
      {"mark": {"type": "point", "opacity": 0}, "encoding": {"x": {"field": "x", "type": "quantitative", "axis": {"orient": "top", "values": [15,16,17,18,19,20,21,22,23,24,25], "tickSize": -5, "labels": false, "title": null}}, "y": {"field": "y", "type": "quantitative", "axis": {"orient": "right", "values": [0.8,1.6,2.4,3.2,4.0,4.8,5.6,6.4,7.2], "tickSize": -3, "labels": false, "title": null}}}},
      {"mark": {"type": "point", "opacity": 0}, "encoding": {"x": {"field": "x", "type": "quantitative", "axis": {"orient": "bottom", "values": [15.5,16.5,17.5,18.5,19.5,20.5,21.5,22.5,23.5,24.5], "tickSize": -3, "labels": false, "title": null}}, "y": {"field": "y", "type": "quantitative", "axis": null}}},
      {"mark": {"type": "point", "opacity": 0}, "encoding": {"x": {"field": "x", "type": "quantitative", "axis": {"orient": "top", "values": [15.5,16.5,17.5,18.5,19.5,20.5,21.5,22.5,23.5,24.5], "tickSize": -3, "labels": false, "title": null}}, "y": {"field": "y", "type": "quantitative", "axis": null}}},
      {"data": {"values": [{"t": "(b1)"}]}, "mark": {"type": "text", "align": "left", "fontSize": 19, "color": "black"}, "encoding": {"x": {"datum": 15.25, "axis": null}, "y": {"datum": 6.45, "axis": null}, "text": {"field": "t"}}},
      {"data": {"values": [{"t": "400 mJ/cm²"}]}, "mark": {"type": "text", "align": "right", "fontSize": 18.5, "color": "#ff0000"}, "encoding": {"x": {"datum": 24.9, "axis": null}, "y": {"datum": 6.38, "axis": null}, "text": {"field": "t"}}}
     ]},
    {"width": 326, "height": 137, "data": {"name": "b2"}, "resolve": {"axis": {"x": "independent", "y": "independent"}},
     "layer": [
      {"mark": {"type": "line", "color": "#ff0000", "strokeWidth": 1}, "encoding": {"x": {"field": "x", "type": "quantitative", "scale": {"domain": [15, 25], "nice": false}, "axis": {"orient": "bottom", "values": [15,16,17,18,19,20,21,22,23,24,25], "tickSize": -5, "labels": false, "title": null}}, "y": {"field": "y", "type": "quantitative", "scale": {"domain": [0, 8], "nice": false}, "axis": {"orient": "left", "values": [0.8,1.6,2.4,3.2,4.0,4.8,5.6,6.4,7.2], "tickSize": -3, "labels": false, "title": null}}}},
      {"mark": {"type": "point", "opacity": 0}, "encoding": {"x": {"field": "x", "type": "quantitative", "axis": {"orient": "top", "values": [15,16,17,18,19,20,21,22,23,24,25], "tickSize": -5, "labels": false, "title": null}}, "y": {"field": "y", "type": "quantitative", "axis": {"orient": "right", "values": [0.8,1.6,2.4,3.2,4.0,4.8,5.6,6.4,7.2], "tickSize": -3, "labels": false, "title": null}}}},
      {"mark": {"type": "point", "opacity": 0}, "encoding": {"x": {"field": "x", "type": "quantitative", "axis": {"orient": "bottom", "values": [15.5,16.5,17.5,18.5,19.5,20.5,21.5,22.5,23.5,24.5], "tickSize": -3, "labels": false, "title": null}}, "y": {"field": "y", "type": "quantitative", "axis": null}}},
      {"mark": {"type": "point", "opacity": 0}, "encoding": {"x": {"field": "x", "type": "quantitative", "axis": {"orient": "top", "values": [15.5,16.5,17.5,18.5,19.5,20.5,21.5,22.5,23.5,24.5], "tickSize": -3, "labels": false, "title": null}}, "y": {"field": "y", "type": "quantitative", "axis": null}}},
      {"data": {"values": [{"t": "(b2)"}]}, "mark": {"type": "text", "align": "left", "fontSize": 19, "color": "black"}, "encoding": {"x": {"datum": 15.25, "axis": null}, "y": {"datum": 6.45, "axis": null}, "text": {"field": "t"}}},
      {"data": {"values": [{"t": "500 mJ/cm²"}]}, "mark": {"type": "text", "align": "right", "fontSize": 18.5, "color": "#ff0000"}, "encoding": {"x": {"datum": 24.9, "axis": null}, "y": {"datum": 6.38, "axis": null}, "text": {"field": "t"}}}
     ]},
    {"width": 326, "height": 137, "data": {"name": "b3"}, "resolve": {"axis": {"x": "independent", "y": "independent"}},
     "layer": [
      {"mark": {"type": "line", "color": "#ff0000", "strokeWidth": 1}, "encoding": {"x": {"field": "x", "type": "quantitative", "scale": {"domain": [15, 25], "nice": false}, "axis": {"orient": "bottom", "values": [15,16,17,18,19,20,21,22,23,24,25], "tickSize": -5, "labels": false, "title": null}}, "y": {"field": "y", "type": "quantitative", "scale": {"domain": [0, 8], "nice": false}, "axis": {"orient": "left", "values": [0.8,1.6,2.4,3.2,4.0,4.8,5.6,6.4,7.2], "tickSize": -3, "labels": false, "title": null}}}},
      {"mark": {"type": "point", "opacity": 0}, "encoding": {"x": {"field": "x", "type": "quantitative", "axis": {"orient": "top", "values": [15,16,17,18,19,20,21,22,23,24,25], "tickSize": -5, "labels": false, "title": null}}, "y": {"field": "y", "type": "quantitative", "axis": {"orient": "right", "values": [0.8,1.6,2.4,3.2,4.0,4.8,5.6,6.4,7.2], "tickSize": -3, "labels": false, "title": null}}}},
      {"mark": {"type": "point", "opacity": 0}, "encoding": {"x": {"field": "x", "type": "quantitative", "axis": {"orient": "bottom", "values": [15.5,16.5,17.5,18.5,19.5,20.5,21.5,22.5,23.5,24.5], "tickSize": -3, "labels": false, "title": null}}, "y": {"field": "y", "type": "quantitative", "axis": null}}},
      {"mark": {"type": "point", "opacity": 0}, "encoding": {"x": {"field": "x", "type": "quantitative", "axis": {"orient": "top", "values": [15.5,16.5,17.5,18.5,19.5,20.5,21.5,22.5,23.5,24.5], "tickSize": -3, "labels": false, "title": null}}, "y": {"field": "y", "type": "quantitative", "axis": null}}},
      {"data": {"values": [{"t": "(b3)"}]}, "mark": {"type": "text", "align": "left", "fontSize": 19, "color": "black"}, "encoding": {"x": {"datum": 15.25, "axis": null}, "y": {"datum": 6.45, "axis": null}, "text": {"field": "t"}}},
      {"data": {"values": [{"t": "600 mJ/cm²"}]}, "mark": {"type": "text", "align": "right", "fontSize": 18.5, "color": "#ff0000"}, "encoding": {"x": {"datum": 24.9, "axis": null}, "y": {"datum": 6.38, "axis": null}, "text": {"field": "t"}}}
     ]},
    {"width": 326, "height": 137, "data": {"name": "b4"}, "resolve": {"axis": {"x": "independent", "y": "independent"}},
     "layer": [
      {"mark": {"type": "line", "color": "#ff0000", "strokeWidth": 1}, "encoding": {"x": {"field": "x", "type": "quantitative", "scale": {"domain": [15, 25], "nice": false}, "axis": {"orient": "bottom", "values": [15,16,17,18,19,20,21,22,23,24,25], "tickSize": -5, "labelPadding": 11, "labelFontSize": 15, "labelFlush": false, "labelOverlap": false, "title": null}}, "y": {"field": "y", "type": "quantitative", "scale": {"domain": [0, 8], "nice": false}, "axis": {"orient": "left", "values": [0.8,1.6,2.4,3.2,4.0,4.8,5.6,6.4,7.2], "tickSize": -3, "labels": false, "title": null}}}},
      {"mark": {"type": "point", "opacity": 0}, "encoding": {"x": {"field": "x", "type": "quantitative", "axis": {"orient": "top", "values": [15,16,17,18,19,20,21,22,23,24,25], "tickSize": -5, "labels": false, "title": null}}, "y": {"field": "y", "type": "quantitative", "axis": {"orient": "right", "values": [0.8,1.6,2.4,3.2,4.0,4.8,5.6,6.4,7.2], "tickSize": -3, "labels": false, "title": null}}}},
      {"mark": {"type": "point", "opacity": 0}, "encoding": {"x": {"field": "x", "type": "quantitative", "axis": {"orient": "bottom", "values": [15.5,16.5,17.5,18.5,19.5,20.5,21.5,22.5,23.5,24.5], "tickSize": -3, "labels": false, "title": null}}, "y": {"field": "y", "type": "quantitative", "axis": null}}},
      {"mark": {"type": "point", "opacity": 0}, "encoding": {"x": {"field": "x", "type": "quantitative", "axis": {"orient": "top", "values": [15.5,16.5,17.5,18.5,19.5,20.5,21.5,22.5,23.5,24.5], "tickSize": -3, "labels": false, "title": null}}, "y": {"field": "y", "type": "quantitative", "axis": null}}},
      {"data": {"name": "sticks"}, "mark": {"type": "rule"}, "encoding": {"x": {"field": "x", "type": "quantitative", "axis": null}, "y": {"field": "h", "type": "quantitative", "axis": null}, "y2": {"datum": 0}, "color": {"field": "phase", "type": "nominal", "scale": {"domain": ["hex", "cubic"], "range": ["#00e000", "#ff00ff"]}, "legend": null}, "strokeWidth": {"field": "phase", "type": "ordinal", "scale": {"domain": ["hex", "cubic"], "range": [2.5, 5]}, "legend": null}}},
      {"data": {"values": [{"t": "(b4)"}]}, "mark": {"type": "text", "align": "left", "fontSize": 19, "color": "black"}, "encoding": {"x": {"datum": 15.25, "axis": null}, "y": {"datum": 6.45, "axis": null}, "text": {"field": "t"}}},
      {"data": {"values": [{"t": "700 mJ/cm²"}]}, "mark": {"type": "text", "align": "right", "fontSize": 18.5, "color": "#ff0000"}, "encoding": {"x": {"datum": 24.9, "axis": null}, "y": {"datum": 6.38, "axis": null}, "text": {"field": "t"}}}
     ]}
   ]}
 ]
}]
}
